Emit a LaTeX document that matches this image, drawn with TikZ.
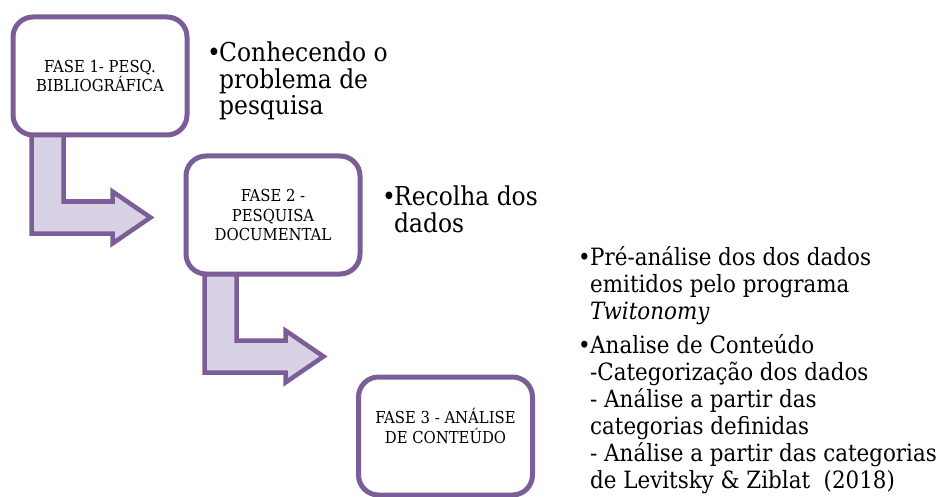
\documentclass[tikz,border=0pt]{standalone}
\usepackage{fontspec}
\setmainfont{DejaVu Serif Condensed}
\usetikzlibrary{calc}
\definecolor{smpurple}{RGB}{123,94,152}
\definecolor{smlav}{RGB}{216,210,228}
\pgfdeclarelayer{bg}
\pgfsetlayers{bg,main}
\newcommand{\bul}{\makebox[12pt][l]{•}}
\begin{document}
\begin{tikzpicture}[x=1pt,y=-1pt,
  phasebox/.style={draw=smpurple, line width=5pt, fill=white, rounded corners=20pt,
    minimum width=174pt, minimum height=118pt, inner sep=0pt},
  phasetext/.style={align=center, font=\fontsize{16.5}{19.5}\selectfont, inner sep=0pt},
  bullettext/.style={anchor=base west, inner sep=0pt},
  bentarrow/.style={draw=smpurple, line width=4.5pt, fill=smlav, line join=miter}
]
\useasboundingbox (0,0) rectangle (947,497);

% phase boxes
\node[phasebox] (b1) at (100,76) {};
\node[phasebox] (b2) at (273,215) {};
\node[phasebox] (b3) at (445.5,436) {};

% bent arrows from box to box
\foreach \src in {b1,b2}{
  \begin{pgfonlayer}{bg}
  \begin{scope}[shift={(\src.south west)}]
    \draw[bentarrow] (21,-10) -- (21,96) -- (102,96) -- (102,106) -- (140,80)
      -- (102,54) -- (102,64) -- (53,64) -- (53,-10) -- cycle;
  \end{scope}
  \end{pgfonlayer}
}

% box labels
\node[phasetext] (t1) at (b1.center) {FASE 1- PESQ.\\BIBLIOGRÁFICA};
\node[phasetext] (t2) at (b2.center) {FASE 2 -\\PESQUISA\\DOCUMENTAL};
\node[phasetext] (t3) at ($(b3.center)+(0,-10)$) {FASE 3 - ANÁLISE\\DE CONTEÚDO};

% bullet texts
\node[bullettext, font=\fontsize{26}{26.5}\selectfont] (n1) at (207,62)
  {\bul\parbox[t]{200pt}{Conhecendo o\\problema de\\pesquisa}};
\node[bullettext, font=\fontsize{26}{27}\selectfont] (n2) at (382,205)
  {\bul\parbox[t]{200pt}{Recolha dos\\dados}};
\node[bullettext, font=\fontsize{23.8}{27}\selectfont] (n3) at (578,265)
  {\bul\parbox[t]{360pt}{Pré-análise dos dos dados\\emitidos pelo programa\\\textit{Twitonomy}}};
\node[bullettext, font=\fontsize{23.8}{27}\selectfont] (n4) at (578,353)
  {\bul\parbox[t]{360pt}{Analise de Conteúdo\\-Categorização dos dados\\- Análise a partir das\\categorias definidas\\- Análise a partir das categorias\\de Levitsky \& Ziblat\ \ (2018)}};
\end{tikzpicture}
\end{document}
